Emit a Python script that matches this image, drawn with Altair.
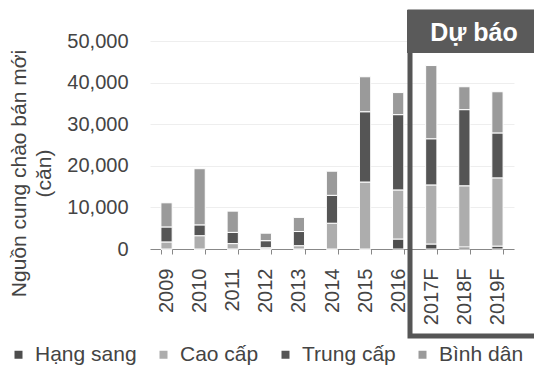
import altair as alt
import pandas as pd

years = ["2009", "2010", "2011", "2012", "2013", "2014", "2015", "2016", "2017F", "2018F", "2019F"]
segments = ["Hạng sang", "Cao cấp", "Trung cấp", "Bình dân"]
hang_sang = [0, 0, 0, 0, 0, 0, 0, 2400, 1200, 500, 700]
cao_cap = [1700, 3200, 1300, 300, 800, 6200, 16100, 11800, 14200, 14700, 16400]
trung_cap = [3600, 2600, 2700, 1700, 3400, 6700, 16900, 18100, 11100, 18300, 10800]
binh_dan = [5800, 13500, 5100, 1800, 3400, 5800, 8400, 5300, 17600, 5500, 9900]
colors = ["#4d4d4d", "#adadad", "#555555", "#9a9a9a"]
y_ticks = [0, 10000, 20000, 30000, 40000, 50000]

rows = []
for i, yr in enumerate(years):
    for k, (seg, vals) in enumerate(zip(segments, [hang_sang, cao_cap, trung_cap, binh_dan])):
        rows.append({"year": yr, "segment": seg, "value": vals[i], "order": k})
df = pd.DataFrame(rows)

bars = alt.Chart(df).mark_bar(stroke="white", strokeWidth=1).encode(
    x=alt.X(
        "year:N", sort=years,
        scale=alt.Scale(paddingInner=0.66, paddingOuter=0.33),
        axis=alt.Axis(
            title=None, labelAngle=270, labelFontSize=20, labelColor="#444",
            labelPadding=14, domainColor="#888", tickColor="#888", tickSize=5,
            tickBand="extent", labelBaseline="middle", labelAlign="right", grid=False,
        ),
    ),
    y=alt.Y(
        "value:Q", stack="zero",
        scale=alt.Scale(domain=[0, 50000], nice=False),
        axis=alt.Axis(
            values=y_ticks, format=",.0f", title=["Nguồn cung chào bán mới", "(căn)"],
            titleFontSize=21, titleFontWeight="normal", titleColor="#444",
            titleAngle=270, titleX=-131, titleY=132, titleAlign="center",
            titleBaseline="middle", titleLineHeight=25,
            labelFontSize=20, labelColor="#444", labelPadding=22,
            domain=False, ticks=False, grid=True, gridColor="#eeeeee",
        ),
    ),
    color=alt.Color(
        "segment:N", sort=segments,
        scale=alt.Scale(domain=segments, range=colors),
        legend=alt.Legend(
            title=None, orient="none", direction="horizontal",
            legendX=-142, legendY=303, symbolType="square", symbolSize=64,
            labelFontSize=21, labelColor="#444", labelOffset=6, columnPadding=16,
            symbolStrokeWidth=0,
        ),
    ),
    order=alt.Order("order:Q"),
)

one = pd.DataFrame({"k": [0]})
box = alt.Chart(one).mark_rect(fill="transparent", stroke="#555555", strokeWidth=5).encode(
    x=alt.value(260), x2=alt.value(400), y=alt.value(-29), y2=alt.value(295)
)
header = alt.Chart(one).mark_rect(fill="#5a5a5a").encode(
    x=alt.value(257), x2=alt.value(400), y=alt.value(-31), y2=alt.value(12)
)
label = alt.Chart(one).mark_text(
    text="Dự báo", fontSize=25, fontWeight="bold", color="white", align="center", baseline="middle"
).encode(x=alt.value(324), y=alt.value(-8))

chart = alt.layer(bars, box, header, label).properties(
    width=364, height=208,
    autosize=alt.AutoSizeParams(type="none"),
    padding={"left": 150, "top": 41, "right": 20, "bottom": 123},
).configure(font="Liberation Sans").configure_view(stroke=None)

chart.save("out.html", embed_options={"renderer": "svg", "actions": False})
